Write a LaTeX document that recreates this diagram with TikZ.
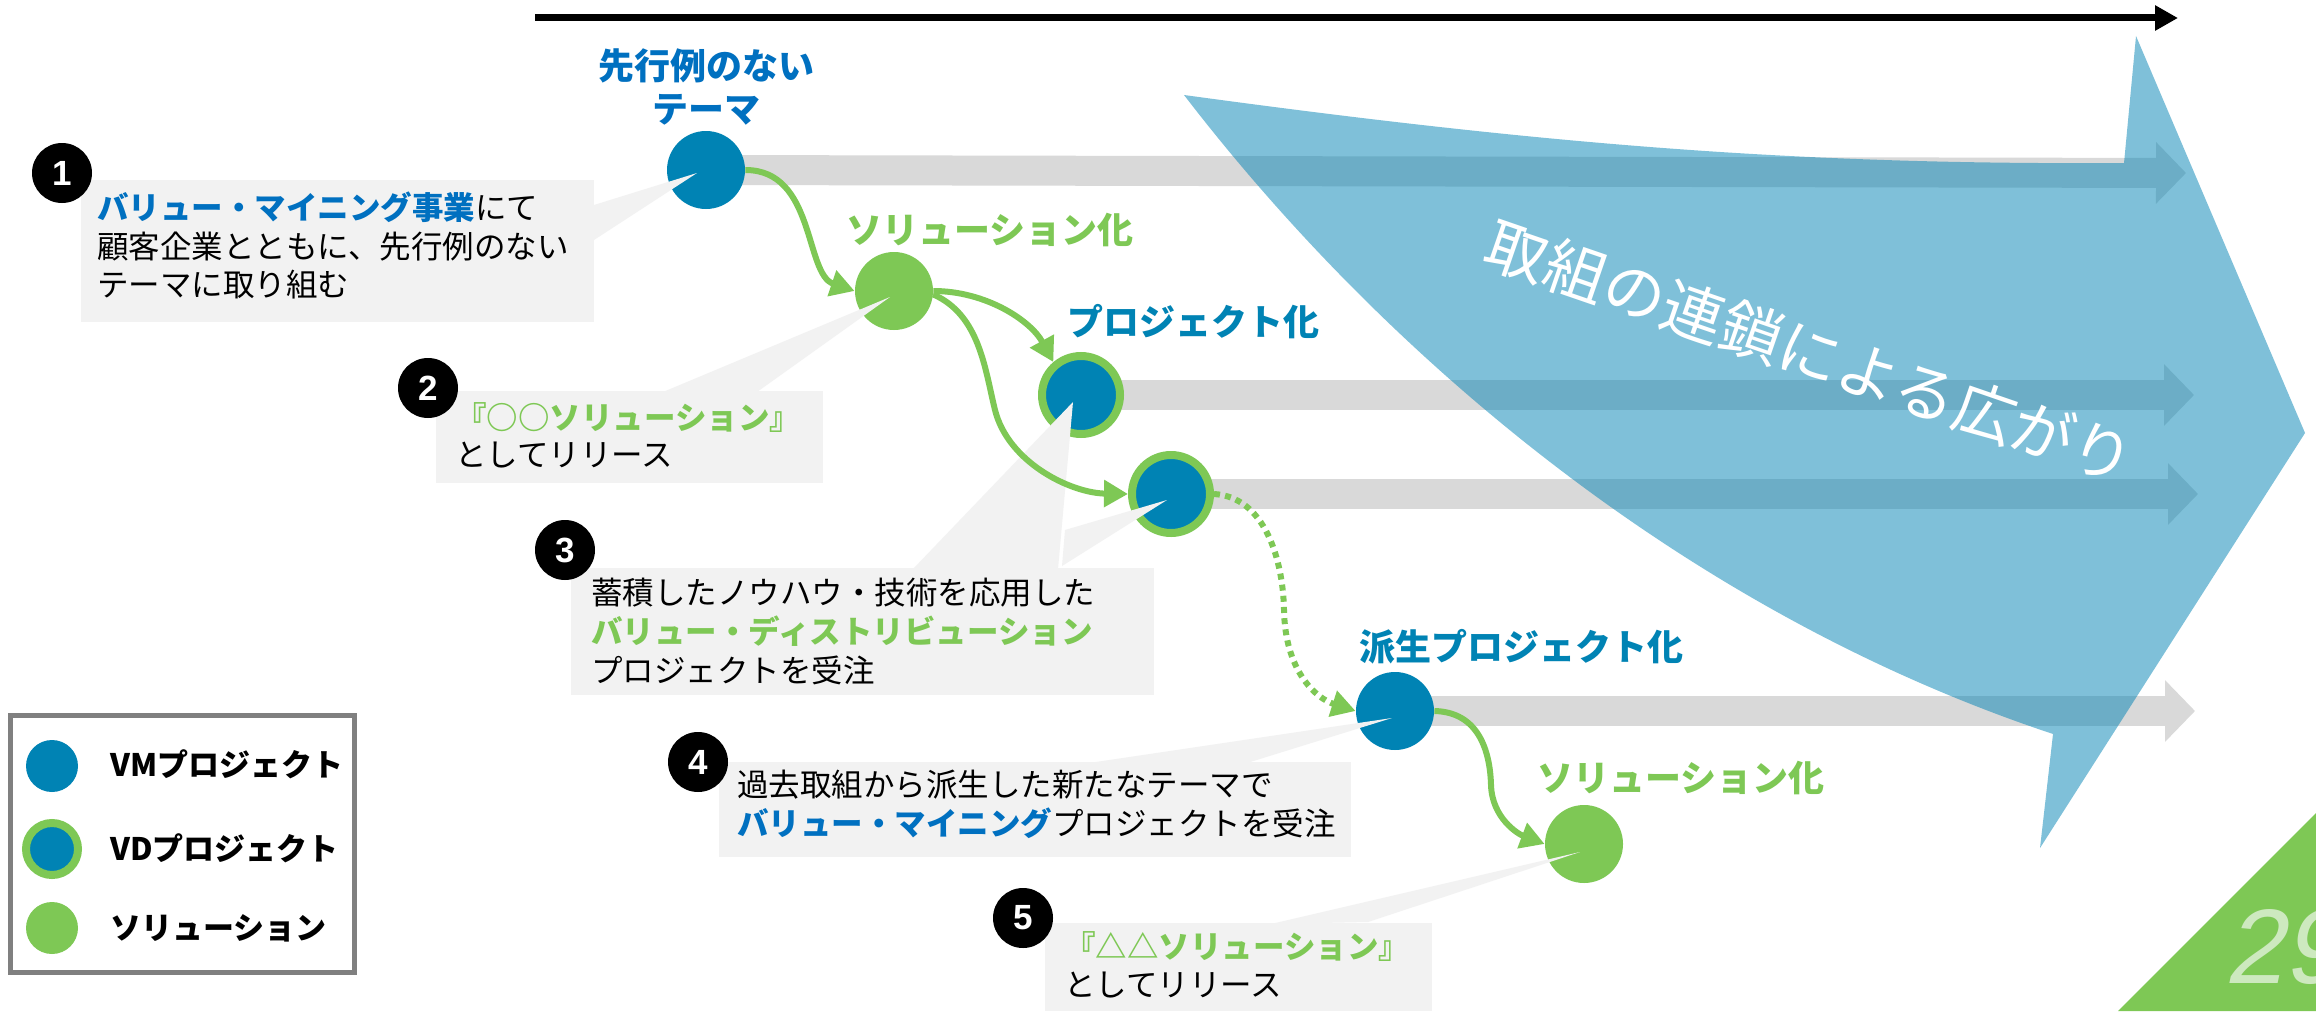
\documentclass[tikz,border=0pt]{standalone}
\usepackage{fontspec}
\setmainfont{Noto Sans CJK JP}
\newfontfamily\numfont{Liberation Sans}
\newfontfamily\pgnumfont{Liberation Sans}[FakeSlant=0.21]
\usetikzlibrary{arrows.meta}
\definecolor{cblue}{HTML}{0083B4}
\definecolor{tblue}{HTML}{0070C0}
\definecolor{cgreen}{HTML}{7EC855}
\definecolor{bargray}{HTML}{D9D9D9}
\definecolor{boxgray}{HTML}{F2F2F2}
\definecolor{legendgray}{HTML}{808080}
\definecolor{pagegreen}{HTML}{CDE9BF}
\newcommand{\myfs}[1]{\fontsize{#1}{#1}\selectfont}
\tikzset{
  vmnode/.style={circle, fill=cblue, minimum size=39pt, inner sep=0pt},
  vdnode/.style={circle, fill=cblue, draw=cgreen, line width=4pt, minimum size=39pt, inner sep=0pt},
  solnode/.style={circle, fill=cgreen, minimum size=39pt, inner sep=0pt},
  bararrow/.style={bargray, line width=15pt, -{Triangle[length=15pt,width=30pt]}},
  conn/.style={cgreen, line width=3pt, -{Triangle[length=12pt,width=13pt]}},
  dotconn/.style={conn, dash pattern=on 3pt off 2.6pt},
  callout/.style={fill=boxgray},
  body/.style={font=\myfs{15.75}, anchor=west, inner sep=0pt, text=black},
  lab/.style={font=\bfseries\myfs{18}, inner sep=0pt},
  leg/.style={font=\bfseries\myfs{15.5}, anchor=west, inner sep=0pt, text=black},
  badge/.style={circle, fill=black, minimum size=30pt, inner sep=0pt, text=white, font=\numfont\bfseries\myfs{17.5}},
}
\begin{document}
\begin{tikzpicture}[x=0.5pt,y=-0.5pt]
\useasboundingbox (0,0) rectangle (2316,1011);
\clip (0,0) rectangle (2316,1011);
\fill[white] (0,0) rectangle (2316,1011);

% circle centres
\coordinate (p1) at (706,170);
\coordinate (p2) at (894,291);
\coordinate (p3) at (1081,395);
\coordinate (p4) at (1171,494);
\coordinate (p5) at (1395,711);
\coordinate (p6) at (1584,844);
\coordinate (e1) at (2186,173);
\coordinate (e3) at (2194,395);
\coordinate (e4) at (2198,494);
\coordinate (e5) at (2195,711);

% top time arrow
\coordinate (ta) at (535,18);
\coordinate (tb) at (2178,18);
\draw[line width=3.5pt, -{Triangle[length=11.5pt,width=12pt]}] (ta) -- (tb);

% gray continuation arrows
\draw[bararrow] (p1) -- (e1);
\draw[bararrow] (p3) -- (e3);
\draw[bararrow] (p4) -- (e4);
\draw[bararrow] (p5) -- (e5);

% big translucent arrow
\fill[cblue, opacity=0.5] (1184,95) .. controls (1550,145) and (1800,165) .. (2124,163)
  -- (2136,36) -- (2305,433) -- (2040,848) -- (2053,734)
  .. controls (1680,610) and (1380,350) .. (1184,95) -- cycle;
\node[rotate=-19, text=white, font=\myfs{31}, inner sep=0pt] (chain) at (1810,352) {取組の連鎖による広がり};

% circles
\node[vmnode] (c1) at (p1) {};
\node[solnode] (c2) at (p2) {};
\node[vdnode] (c3) at (p3) {};
\node[vdnode] (c4) at (p4) {};
\node[vmnode] (c5) at (p5) {};
\node[solnode] (c6) at (p6) {};

% callouts
\fill[callout] (81,180) rectangle (594,322);
\fill[callout] (594,205) -- (697,173) -- (594,240) -- cycle;
\fill[callout] (436,391) rectangle (823,483);
\fill[callout] (663,392) -- (890,297) -- (757,392) -- cycle;
\fill[callout] (571,568) rectangle (1154,695);
\fill[callout] (913,569) -- (1073,402) -- (1058,569) -- cycle;
\fill[callout] (1065,530) -- (1167,500) -- (1062,566) -- cycle;
\fill[callout] (719,762) rectangle (1351,857);
\fill[callout] (1089,763) -- (1392,718) -- (1247,763) -- cycle;
\fill[callout] (1045,923) rectangle (1432,1011);
\fill[callout] (1271,924) -- (1580,852) -- (1368,922) -- cycle;

% connectors
\draw[conn] (c1.east) .. controls +(70,0) and +(-50,-17) .. (c2.west);
\draw[conn] (c2.east) .. controls +(52,0) and +(-23,-42) .. (c3.130);
\draw[conn] (c2.-5) .. controls (980,315) and (985,370) .. (995,410)
  .. controls (1008,462) and (1070,493) .. (c4.west);
\draw[dotconn] (c4.east) .. controls (1265,497) and (1283,560) .. (1284,610)
  .. controls (1285,670) and (1315,698) .. (c5.west);
\draw[conn] (c5.east) .. controls (1478,712) and (1490,750) .. (1491,785)
  .. controls (1492,818) and (1518,834) .. (c6.west);

% badges
\node[badge] (b1) at (62,173) {1};
\node[badge] (b2) at (428,388) {2};
\node[badge] (b3) at (565,550) {3};
\node[badge] (b4) at (698,762) {4};
\node[badge] (b5) at (1023,918) {5};

% callout texts
\node[body] (t1a) at (97,207) {{\bfseries\color{tblue}バリュー・マイニング事業}にて};
\node[body] (t1b) at (97,247) {顧客企業とともに、先行例のない};
\node[body] (t1c) at (97,285) {テーマに取り組む};
\node[body] (t2a) at (455,418) {{\bfseries\color{cgreen}『○○ソリューション』}};
\node[body] (t2b) at (455,455) {としてリリース};
\node[body] (t3a) at (591,593) {蓄積したノウハウ・技術を応用した};
\node[body] (t3b) at (591,631) {{\bfseries\color{cgreen}バリュー・ディストリビューション}};
\node[body] (t3c) at (591,670) {プロジェクトを受注};
\node[body] (t4a) at (737,785) {過去取組から派生した新たなテーマで};
\node[body] (t4b) at (737,823) {{\bfseries\color{tblue}バリュー・マイニング}プロジェクトを受注};
\node[body] (t5a) at (1064,947) {{\bfseries\color{cgreen}『△△ソリューション』}};
\node[body] (t5b) at (1064,985) {としてリリース};

% stage labels
\node[lab, text=tblue] (l1a) at (706,66) {先行例のない};
\node[lab, text=tblue] (l1b) at (706,110) {テーマ};
\node[lab, text=cgreen] (l2) at (990,230) {ソリューション化};
\node[lab, text=cblue] (l3) at (1193,322) {プロジェクト化};
\node[lab, text=cblue] (l4) at (1521,647) {派生プロジェクト化};
\node[lab, text=cgreen] (l5) at (1681,778) {ソリューション化};

% legend
\draw[legendgray, line width=2.5pt] (10.5,715.5) rectangle (354.5,972.5);
\node[vmnode, minimum size=26pt] (g1) at (52,766) {};
\node[vdnode, minimum size=26pt] (g2) at (52,849) {};
\node[solnode, minimum size=26pt] (g3) at (52,928) {};
\node[leg] (g1t) at (110,764) {VMプロジェクト};
\node[leg] (g2t) at (110,848) {VDプロジェクト};
\node[leg] (g3t) at (110,928) {ソリューション};

% page corner
\fill[cgreen] (2316,813) -- (2316,1011) -- (2118,1011) -- cycle;
\node[anchor=base west, inner sep=0pt, text=pagegreen, font=\pgnumfont\myfs{53}] (pg) at (2224,983) {29};
\end{tikzpicture}
\end{document}
